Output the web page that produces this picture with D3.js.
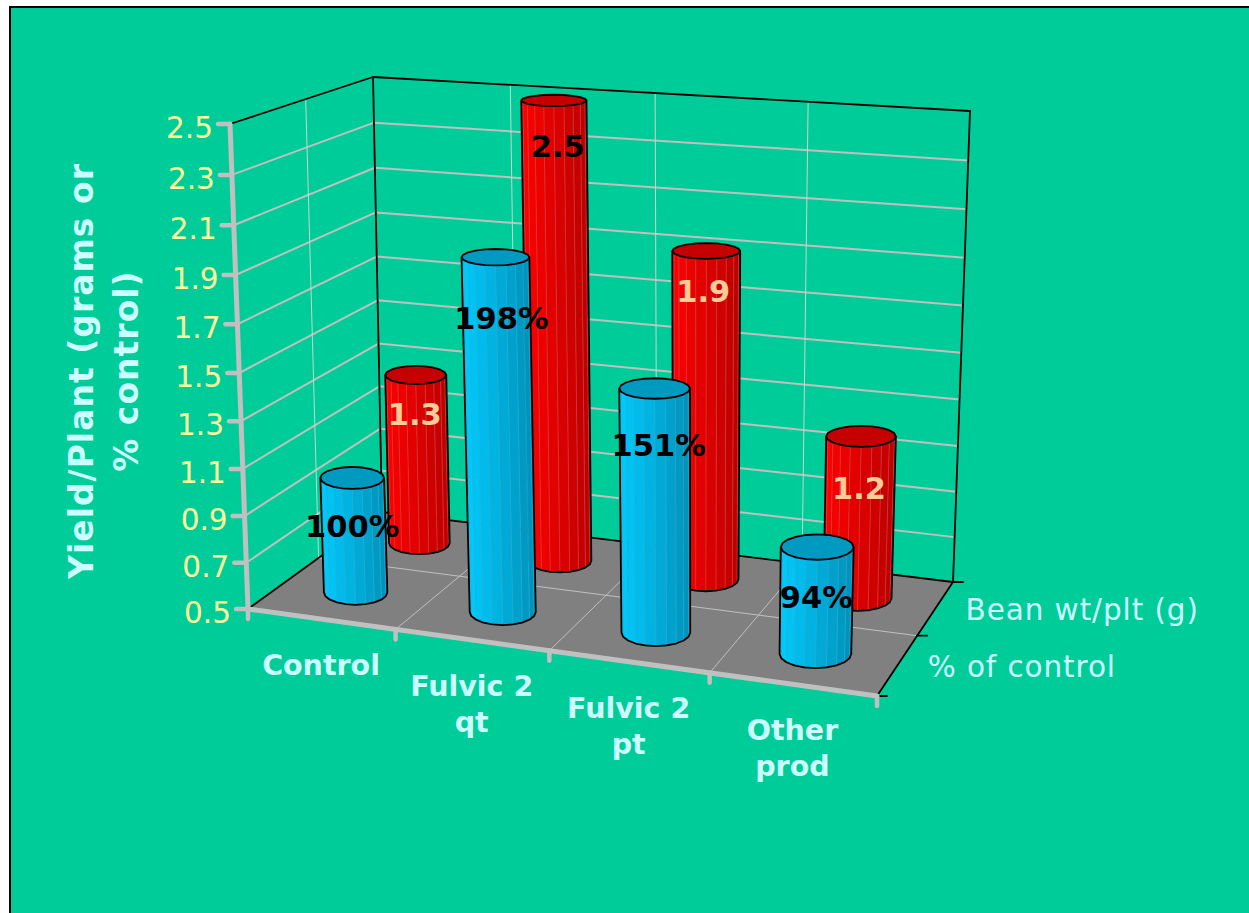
<!DOCTYPE html>
<html>
<head>
<meta charset="utf-8">
<script src="https://cdn.jsdelivr.net/npm/d3@7"></script>
<style>
  html, body { margin: 0; padding: 0; background: #fff; overflow: hidden; }
  text { font-family: "DejaVu Sans", sans-serif; }
</style>
</head>
<body>
<div id="chart"></div>
<script>
// Data
const categories = [["Control"], ["Fulvic 2", "qt"], ["Fulvic 2", "pt"], ["Other", "prod"]];
const seriesNames = ["% of control", "Bean wt/plt (g)"];
const pctControl = [1.0, 1.98, 1.51, 0.94];
const pctLabels = ["100%", "198%", "151%", "94%"];
const beanWeight = [1.27, 2.5, 1.92, 1.2];
const beanLabels = ["1.3", "2.5", "1.9", "1.2"];
const yTicks = [0.5, 0.7, 0.9, 1.1, 1.3, 1.5, 1.7, 1.9, 2.1, 2.3, 2.5];

const W = 1249, H = 913;

// Corners of the 3D box as they land on the page
const floorQuad = [[248, 609], [877, 696], [953, 582], [382, 512]];
const topQuad = [[230, 124], [892, 169], [970, 111], [373, 77]];
const HEIGHT_PERSP = 1.055;

// Unit square -> quad homography
function homography(q) {
  const [[x0, y0], [x1, y1], [x2, y2], [x3, y3]] = q;
  const dx1 = x1 - x2, dx2 = x3 - x2, sx = x0 - x1 + x2 - x3;
  const dy1 = y1 - y2, dy2 = y3 - y2, sy = y0 - y1 + y2 - y3;
  const den = dx1 * dy2 - dx2 * dy1;
  const g = (sx * dy2 - dx2 * sy) / den;
  const h = (dx1 * sy - sx * dy1) / den;
  const a = x1 - x0 + g * x1, b = x3 - x0 + h * x3;
  const d = y1 - y0 + g * y1, e = y3 - y0 + h * y3;
  return (u, v) => {
    const w = g * u + h * v + 1;
    return [(a * u + b * v + x0) / w, (d * u + e * v + y0) / w];
  };
}
const floorMap = homography(floorQuad);
const topMap = homography(topQuad);

// Scales: category -> u, series -> v, value -> height fraction
const xBand = d3.scaleBand().domain(d3.range(categories.length)).range([0, 1]);
const zBand = d3.scaleBand().domain(d3.range(seriesNames.length)).range([0, 1]);
const yScale = d3.scaleLinear().domain([0.5, 2.5]).range([0, 1]);

// Project u, v, height fraction to the page
function project(u, v, t) {
  const a = floorMap(u, v), b = topMap(u, v);
  const f = t / (t + HEIGHT_PERSP * (1 - t));
  return [a[0] + (b[0] - a[0]) * f, a[1] + (b[1] - a[1]) * f];
}
const pts = list => list.map(p => p.join(",")).join(" ");
const lineGen = d3.line();

const svg = d3.select("#chart").append("svg")
  .attr("width", W).attr("height", H)
  .style("display", "block");

// Background panel
svg.append("rect").attr("x", 10).attr("y", 7).attr("width", W).attr("height", H)
  .attr("fill", "#00cc99").attr("stroke", "#000").attr("stroke-width", 2);

const seg = (g, a, b, color, width) => g.append("path")
  .attr("d", lineGen([a, b])).attr("stroke", color).attr("stroke-width", width)
  .attr("fill", "none").attr("stroke-linecap", "round");

const back = svg.append("g");

// Floor
back.append("polygon")
  .attr("points", pts([project(0, 0, 0), project(1, 0, 0), project(1, 1, 0), project(0, 1, 0)]))
  .attr("fill", "#808080");

// Wall gridlines
yTicks.slice(1, -1).forEach(t => {
  const f = yScale(t);
  seg(back, project(0, 0, f), project(0, 1, f), "#c0c0c0", 2);
  seg(back, project(0, 1, f), project(1, 1, f), "#c0c0c0", 2);
});
const xEdges = d3.range(1, categories.length).map(i => xBand(i));
xEdges.forEach(u => {
  seg(back, project(u, 1, 0), project(u, 1, 1), "#c0d8d0", 1);
  seg(back, project(u, 0, 0), project(u, 1, 0), "#c0c0c0", 1);
});
seg(back, project(0, 0.5, 0), project(0, 0.5, 1), "#c0d8d0", 1);
seg(back, project(0, 0.5, 0), project(1, 0.5, 0), "#c0c0c0", 1);

// Box edges
seg(back, project(0, 0, 1), project(0, 1, 1), "#000", 1.8);
seg(back, project(0, 1, 1), project(1, 1, 1), "#000", 1.8);
seg(back, project(0, 1, 0), project(0, 1, 1), "#000", 1.8);
seg(back, project(1, 1, 0), project(1, 1, 1), "#000", 1.8);
seg(back, project(0, 0, 0), project(0, 1, 0), "#000", 1.8);
seg(back, project(0, 1, 0), project(1, 1, 0), "#000", 1.8);
seg(back, project(1, 0, 0), project(1, 1, 0), "#000", 1.8);

// Depth axis ticks
[0, 0.5, 1].forEach(v => {
  const p = project(1, v, 0);
  seg(back, p, [p[0] + 10, p[1]], "#000", 1.8);
});

// Front axes
const axisGrey = "#c0c0c0";
seg(back, project(0, 0, 0), project(0, 0, 1), axisGrey, 5);
seg(back, project(0, 0, 0), project(1, 0, 0), axisGrey, 5);
yTicks.forEach(t => {
  const p = project(0, 0, yScale(t));
  seg(back, p, [p[0] - 12, p[1]], axisGrey, 4.5);
});
[0].concat(xEdges, [1]).forEach(u => {
  const p = project(u, 0, 0);
  seg(back, p, [p[0], p[1] + 10], axisGrey, 4.5);
});

// Cylinders
const SIDES = 20, RU = 0.055, RV = 0.12;
function drawBar(g, cat, row, value, colors) {
  const cu = xBand(cat) + xBand.bandwidth() / 2;
  const cv = zBand(row) + zBand.bandwidth() / 2;
  const ring = t => {
    const c = project(cu, cv, t);
    const rx = Math.abs(project(cu + RU, cv, t)[0] - project(cu - RU, cv, t)[0]) / 2;
    const ry = Math.abs(project(cu, cv + RV, t)[1] - project(cu, cv - RV, t)[1]) / 2;
    return d3.range(SIDES).map(i => {
      const a = i / SIDES * 2 * Math.PI;
      return [c[0] + rx * Math.cos(a), c[1] + ry * Math.sin(a)];
    });
  };
  const low = ring(0), high = ring(yScale(value));
  const half = SIDES / 2;
  const shade = d3.scaleLinear()
    .domain([low[half][0], low[0][0]]).range(colors.side);
  // front half of the ring, right to left
  d3.range(half).forEach(i => {
    g.append("polygon")
      .attr("points", pts([low[i], low[i + 1], high[i + 1], high[i]]))
      .attr("fill", shade((low[i][0] + low[i + 1][0]) / 2))
      .attr("stroke", colors.facet).attr("stroke-width", 0.5);
  });
  const outline = [high[0]].concat(low.slice(0, half + 1), [high[half]]);
  g.append("path").attr("d", lineGen(outline)).attr("fill", "none")
    .attr("stroke", "#000").attr("stroke-width", 1.8).attr("stroke-linejoin", "round");
  g.append("polygon").attr("points", pts(high)).attr("fill", colors.top)
    .attr("stroke", "#000").attr("stroke-width", 1.8).attr("stroke-linejoin", "round");
}

const bars = svg.append("g");
const redStyle = { side: ["#ff0000", "#bb0000"], facet: "#e04040", top: "#c40000" };
const blueStyle = { side: ["#00ccff", "#0090b8"], facet: "#28b0d8", top: "#0099c0" };
beanWeight.forEach((d, i) => drawBar(bars, i, 1, d, redStyle));
pctControl.forEach((d, i) => drawBar(bars, i, 0, d, blueStyle));

// Y tick labels
svg.append("g").selectAll("text").data(yTicks).join("text")
  .attr("x", d => project(0, 0, yScale(d))[0] - 17)
  .attr("y", d => project(0, 0, yScale(d))[1] + 14)
  .attr("text-anchor", "end")
  .attr("font-size", 29.5)
  .attr("fill", "#ffff99")
  .text(d => d.toFixed(1));

// Y title
const yTitle = svg.append("text")
  .attr("transform", "translate(104,371) rotate(-90)")
  .attr("text-anchor", "middle")
  .attr("font-size", 33).attr("font-weight", "bold")
  .attr("letter-spacing", 1)
  .attr("fill", "#ccffff");
yTitle.append("tspan").attr("x", 0).attr("y", -11).text("Yield/Plant (grams or");
yTitle.append("tspan").attr("x", 0).attr("y", 34).text("% control)");

// Category labels
categories.forEach((lines, i) => {
  const p = project(xBand(i) + xBand.bandwidth() / 2, 0, 0);
  const t = svg.append("text").attr("text-anchor", "middle")
    .attr("font-size", 28.5).attr("font-weight", "bold").attr("fill", "#ccffff");
  lines.forEach((s, k) => t.append("tspan")
    .attr("x", p[0]).attr("y", p[1] + 56 + k * 36).text(s));
});

// Series labels on the depth axis
seriesNames.forEach((s, i) => {
  const p = project(1, zBand(i) + zBand.bandwidth() / 2, 0);
  svg.append("text").attr("x", p[0] + 30).attr("y", p[1] + 12)
    .attr("font-size", 29.5).attr("letter-spacing", 0.9).attr("fill", "#ccffff").text(s);
});

// Data labels, hand nudged off the bar tops
const redNudge = [[-1, -6], [4, 1], [-3, -5], [-2, 7]];
const blueNudge = [[0, -5], [6, 8], [4, 3], [-1, -3]];
function drawLabels(values, labels, row, fills, dy, nudge) {
  values.forEach((d, i) => {
    const p = project(xBand(i) + xBand.bandwidth() / 2, zBand(row) + zBand.bandwidth() / 2, yScale(d));
    svg.append("text").attr("x", p[0] + nudge[i][0]).attr("y", p[1] + dy + nudge[i][1])
      .attr("text-anchor", "middle").attr("font-size", 30.5).attr("font-weight", "bold")
      .attr("fill", fills[i]).text(labels[i]);
  });
}
drawLabels(beanWeight, beanLabels, 1, ["#ffcc99", "#000", "#ffcc99", "#ffcc99"], 56, redNudge);
drawLabels(pctControl, pctLabels, 0, ["#000", "#000", "#000", "#000"], 64, blueNudge);
</script>
</body>
</html>
